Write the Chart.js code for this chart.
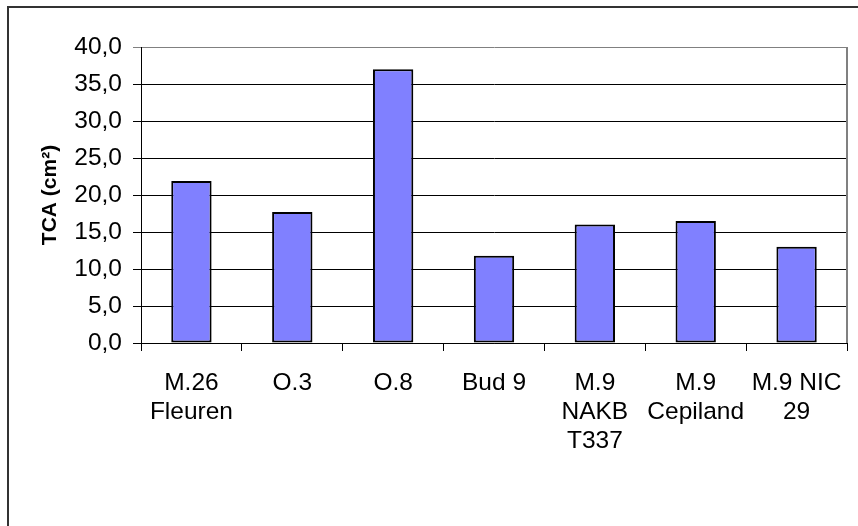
<!DOCTYPE html>
<html lang="en">
<head>
    <meta charset="UTF-8">
    <title>TCA (cm²)</title>
    <script src="https://cdn.jsdelivr.net/npm/chart.js"></script>
    <style>
        html, body { margin: 0; padding: 0; background: #fff; }
        #wrap { position: relative; width: 858px; height: 526px; }
    </style>
</head>
<body>
    <div id="wrap"><canvas id="tcaChart"></canvas></div>
    <script>
        // data
        var categories = [
            ['M.26', 'Fleuren'],
            'O.3',
            'O.8',
            'Bud 9',
            ['M.9', 'NAKB', 'T337'],
            ['M.9', 'Cepiland'],
            ['M.9 NIC', '29']
        ];
        var tcaValues = [21.9, 17.7, 37.0, 11.8, 16.0, 16.5, 13.0];
        var yTickLabels = ['0,0', '5,0', '10,0', '15,0', '20,0', '25,0', '30,0', '35,0', '40,0'];

        // outer frame and grey plot border on the right
        var framePlugin = {
            id: 'frame',
            afterDraw: function(chart) {
                var c = chart.ctx, a = chart.chartArea;
                c.save();
                c.strokeStyle = '#808080';
                c.lineWidth = 2;
                c.beginPath();
                c.moveTo(a.right, a.top);
                c.lineTo(a.right, a.bottom);
                c.stroke();
                c.strokeStyle = '#333';
                c.lineWidth = 2;
                c.beginPath();
                c.moveTo(8, 526);
                c.lineTo(8, 7);
                c.lineTo(858, 7);
                c.stroke();
                c.restore();
            }
        };

        var ctx = document.getElementById('tcaChart').getContext('2d');
        var tcaChart = new Chart(ctx, {
            type: 'bar',
            data: {
                labels: categories,
                datasets: [{
                    data: tcaValues,
                    backgroundColor: '#8080ff',
                    borderColor: '#000',
                    borderWidth: 2,
                    borderSkipped: false,
                    categoryPercentage: 1.0,
                    barPercentage: 0.4
                }]
            },
            options: {
                responsive: true,
                maintainAspectRatio: false,
                animation: false,
                layout: { padding: { left: 0, top: 47, right: 11, bottom: 0 } },
                plugins: { legend: { display: false }, tooltip: { enabled: false } },
                scales: {
                    x: {
                        grid: { drawOnChartArea: false, drawTicks: true, tickLength: 8, color: '#000' },
                        border: { color: '#000', width: 1 },
                        ticks: {
                            color: '#000', padding: 18, maxRotation: 0, autoSkip: false,
                            font: { family: 'Liberation Sans, Arial', size: 24.5, lineHeight: '29px' }
                        },
                        afterFit: function(s) {
                            s.height = 183;
                            s.paddingLeft = 0;
                            s.paddingRight = 0;
                        }
                    },
                    y: {
                        min: 0, max: 40,
                        ticks: {
                            stepSize: 5, color: '#000', padding: 11,
                            font: { family: 'Liberation Sans, Arial', size: 24.5 },
                            callback: function(v, i) { return yTickLabels[i]; }
                        },
                        grid: {
                            tickLength: 8,
                            color: function(c) { return c.tick && c.tick.value === 40 ? '#808080' : '#000'; }
                        },
                        border: { color: '#000', width: 1 },
                        title: {
                            display: true, text: 'TCA (cm²)', color: '#000',
                            font: { family: 'Liberation Sans, Arial', size: 21, weight: 'bold' },
                            padding: { top: 38, bottom: 0 }
                        },
                        afterFit: function(s) { s.width = 141; }
                    }
                }
            },
            plugins: [framePlugin]
        });
    </script>
</body>
</html>
